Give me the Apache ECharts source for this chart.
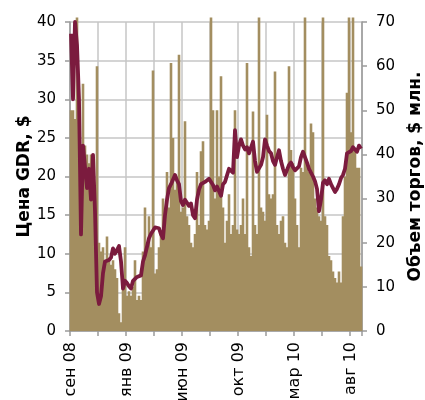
<!DOCTYPE html>
<html>
<head>
<meta charset="utf-8">
<script src="https://cdn.jsdelivr.net/npm/echarts@6/dist/echarts.min.js"></script>
<style>
html,body{margin:0;padding:0;background:#fff;}
#chart{width:425px;height:400px;}
</style>
</head>
<body>
<div id="chart"></div>
<script>
// Tick labels shown every 28 trading-day buckets
const tickLabels = ['сен 08', 'янв 09', 'июн 09', 'окт 09', 'мар 10', 'авг 10'];

// GDR price, $ (left axis)
const priceGDR = [
  38.5, 30, 40, 37, 30, 12.5, 24, 24, 18.5, 21,
  17, 22.8, 15.5, 5, 3.5, 4.5, 7.5, 9, 9.2, 9.2,
  9.5, 10.7, 10, 10.2, 11, 9, 5.5, 6.5, 6.2, 5.8,
  5.5, 6.5, 6.5, 7, 7, 7.2, 9, 9.8, 9.6, 12,
  12.6, 12.5, 13.4, 13.5, 13.3, 12.5, 12, 15, 17, 18.5,
  19, 19, 20.2, 19.5, 19, 16.8, 16.3, 17, 17, 16.2,
  16.5, 15, 14.6, 17, 18.3, 19, 19, 19.3, 19.2, 19.7,
  19.5, 18.9, 18.2, 18.7, 18.5, 17.5, 19, 19.3, 19.5, 21,
  21.2, 20.5, 26, 22.5, 24, 24.8, 24, 23.5, 23.8, 23,
  23.2, 24.5, 22, 20.6, 20.8, 21.5, 22.5, 24.8, 24, 23.3,
  23, 22, 21.5, 22.5, 23.4, 22, 21, 20.2, 20, 21.5,
  21.8, 21.2, 20.8, 20.6, 21.3, 22.5, 23.2, 23, 21.8, 21,
  20.8, 20, 19.4, 18.4, 15.5, 17, 19.2, 19.5, 19, 19.7,
  19, 18.5, 18, 18.4, 19, 19.8, 20.2, 21, 23, 23,
  23.3, 23.8, 24, 23.2, 24, 23.6
];

// Trading volume, $ mln (right axis)
const volumeMln = [
  50, 50, 48, 71, 45, 41, 56, 42, 40, 38,
  40, 38, 30, 60, 20, 18, 19, 16, 21.4, 16,
  15, 16, 14, 12, 4, 2, 10, 19, 8, 9,
  8, 10, 16, 7, 8, 7, 18, 28, 20, 26,
  19, 59, 13, 14, 19, 22, 30, 26, 36, 28,
  60.7, 43.7, 32, 34, 62.6, 27, 28, 47.5, 26, 24,
  20, 19, 22, 36, 24, 40.7, 43, 24, 23, 25,
  71, 50, 30, 50, 35, 57.7, 28, 20, 25, 31,
  22, 24, 50, 23, 22, 24, 30, 22, 60.7, 19,
  17, 49.7, 24, 22, 71, 28, 27, 25, 49, 31,
  30, 31, 58.8, 24, 22, 25, 26, 20, 19, 60,
  41, 38, 30, 24, 19, 37, 36, 71, 38, 36,
  47, 45, 30, 28, 26, 25, 71, 26, 24, 17,
  16, 13.5, 12, 11, 13.5, 11, 26, 35, 54, 71,
  45, 71, 41, 37, 37, 14.6
];

const categories = priceGDR.map((_, i) => 'd' + i);

const chart = echarts.init(document.getElementById('chart'), null, {renderer: 'canvas'});
const FONT = 'DejaVu Sans';
const axisGray = '#9a9a9a';
const gridGray = '#c6c6c6';
const barColor = '#a38e60';

chart.setOption({
  animation: false,
  backgroundColor: '#ffffff',
  grid: {left: 70, right: 63, top: 22, bottom: 69, containLabel: false, outerBoundsMode: 'none'},
  xAxis: {
    type: 'category',
    data: categories,
    boundaryGap: true,
    axisLine: {show: true, lineStyle: {color: axisGray, width: 1.5}},
    axisTick: {show: true, interval: 13, length: 5, lineStyle: {color: axisGray, width: 1.5}},
    splitLine: {show: true, interval: 13, lineStyle: {color: gridGray, width: 1.5}},
    axisLabel: {
      interval: 27,
      rotate: 90,
      margin: 11,
      fontFamily: FONT,
      fontSize: 16,
      color: '#000',
      formatter: (v, i) => tickLabels[Math.round(i / 28)] || ''
    }
  },
  yAxis: [
    {
      type: 'value',
      min: 0, max: 40, interval: 5,
      name: 'Цена GDR, $',
      nameLocation: 'middle',
      nameGap: 37,
      nameMoveOverlap: false,
      nameTextStyle: {fontFamily: FONT, fontSize: 17, fontWeight: 'bold', color: '#000'},
      axisLine: {show: true, lineStyle: {color: axisGray, width: 1.5}},
      axisTick: {show: true, length: 5, lineStyle: {color: axisGray, width: 1.5}},
      splitLine: {show: true, lineStyle: {color: gridGray, width: 1.5}},
      axisLabel: {margin: 14, fontFamily: FONT, fontSize: 15, color: '#000'}
    },
    {
      type: 'value',
      min: 0, max: 70, interval: 10,
      name: 'Объем торгов, $ млн.',
      nameLocation: 'middle',
      nameGap: 45,
      nameMoveOverlap: false,
      nameTextStyle: {fontFamily: FONT, fontSize: 17, fontWeight: 'bold', color: '#000'},
      axisLine: {show: true, lineStyle: {color: axisGray, width: 1.5}},
      axisTick: {show: true, length: 5, lineStyle: {color: axisGray, width: 1.5}},
      splitLine: {show: false},
      axisLabel: {margin: 14, fontFamily: FONT, fontSize: 15, color: '#000'}
    }
  ],
  series: [
    {
      name: 'Объем торгов',
      type: 'bar',
      yAxisIndex: 1,
      data: volumeMln,
      barWidth: '130%',
      large: true,
      largeThreshold: 10,
      clip: false,
      itemStyle: {color: barColor},
      z: 2
    },
    {
      name: 'Цена GDR',
      type: 'line',
      yAxisIndex: 0,
      data: priceGDR,
      showSymbol: false,
      symbol: 'none',
      lineStyle: {color: '#7b1b3e', width: 3.8, join: 'round'},
      z: 3
    }
  ]
});
</script>
</body>
</html>
